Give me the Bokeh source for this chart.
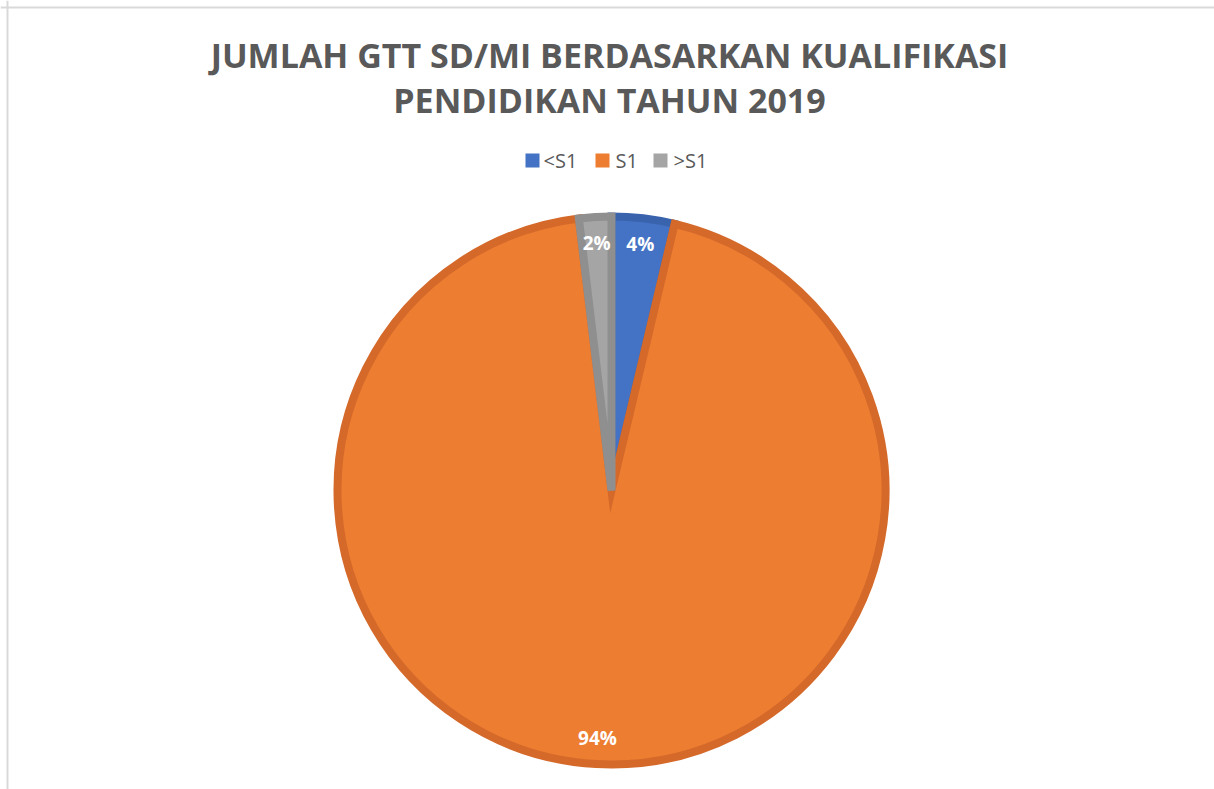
import numpy as np
from bokeh.plotting import figure
from bokeh.models import Range1d, Span
from bokeh.core.properties import value
from bokeh.embed import file_html
from bokeh.resources import INLINE

# ---- data ----
categories = ["<S1", "S1", ">S1"]
shares = [3.7, 94.4, 1.9]          # percent
labels = ["4%", "94%", "2%"]
colors = ["#4472C4", "#ED7D31", "#A5A5A5"]
edge_colors = ["#3A63AE", "#D4692A", "#8F8F8F"]
title_lines = ["JUMLAH GTT SD/MI BERDASARKAN KUALIFIKASI", "PENDIDIKAN TAHUN 2019"]

W, H = 1214, 789
p = figure(width=W, height=H, output_backend="svg", toolbar_location=None,
           x_range=Range1d(0, W), y_range=Range1d(0, H), min_border=0,
           background_fill_color="white", border_fill_color="white")
p.axis.visible = False
p.grid.visible = False
p.outline_line_color = None

def py(y_page):
    return H - y_page

def px(x_page):
    return x_page

# frame (top and left edges of chart box)
p.add_layout(Span(location=py(7), dimension="width", line_color="#D9D9D9", line_width=2))
p.add_layout(Span(location=px(7), dimension="height", line_color="#D9D9D9", line_width=2))

cx, cy = px(611), py(490)
R = 278
lw = 8

frac = np.array(shares) / np.sum(shares)
ang = frac * 2 * np.pi
ends_cum = np.cumsum(ang)
starts = np.pi / 2 - np.concatenate([[0], ends_cum[:-1]])
ends = np.pi / 2 - ends_cum
mids = (starts + ends) / 2

p.wedge(x=[cx] * 3, y=[cy] * 3, radius=R - lw / 2, start_angle=list(starts), end_angle=list(ends),
        direction="clock", fill_color=colors, line_color=edge_colors, line_width=lw,
        line_join="miter")

rl = 248
p.text(x=list(cx + rl * np.cos(mids)), y=list(cy + rl * np.sin(mids)), text=labels,
       text_color="white", text_font=value("Open Sans"), text_font_style="bold",
       text_font_size="19px", text_align="center", text_baseline="middle")

# title
p.text(x=[px(609), px(609)], y=[py(54), py(99)], text=title_lines,
       text_color="#595959", text_font=value("Open Sans"), text_font_style="bold",
       text_font_size="34px", text_align="center", text_baseline="middle")

# legend
sq_x = [px(532), px(602), px(660)]
txt_x = [px(543), px(615), px(673)]
p.scatter(x=sq_x, y=[py(160)] * 3, marker="square", size=14, fill_color=colors, line_color=None)
p.text(x=txt_x, y=[py(160)] * 3, text=categories, text_color="#595959",
       text_font=value("Open Sans"), text_font_size="20px", text_align="left",
       text_baseline="middle")

open("out.html", "w").write(file_html(p, INLINE))
